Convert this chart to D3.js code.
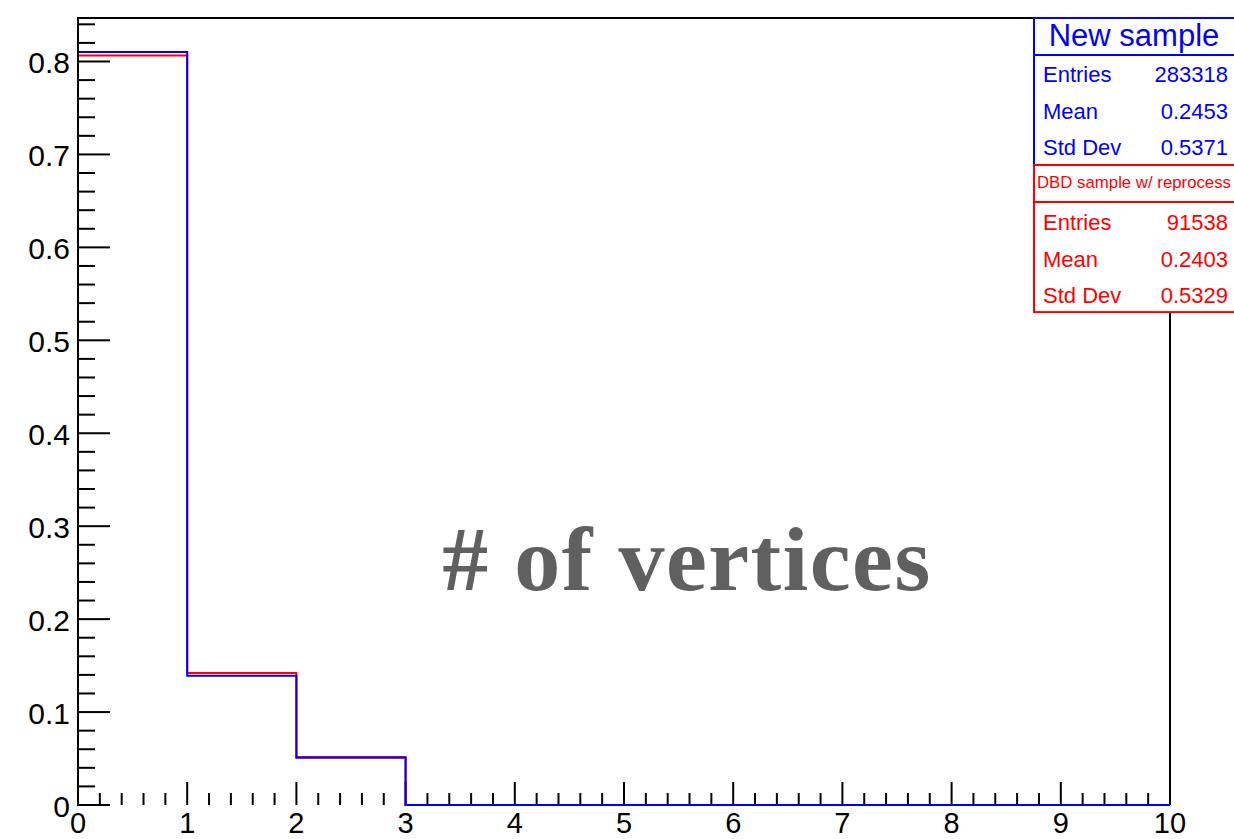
<!DOCTYPE html>
<html>
<head>
<meta charset="utf-8">
<script src="https://cdn.jsdelivr.net/npm/d3@7/dist/d3.min.js"></script>
<style>
  html, body { margin: 0; padding: 0; background: #fff; }
  svg { display: block; }
</style>
</head>
<body>
<svg id="chart" width="1234" height="839"></svg>
<script>
// Histogram bin edges (number of vertices) and normalised contents
const binEdges = [0, 1, 2, 3, 4, 5, 6, 7, 8, 9, 10];
const newSample = [0.8102, 0.1390, 0.0508, 0, 0, 0, 0, 0, 0, 0];
const dbdSample = [0.8064, 0.1419, 0.0517, 0, 0, 0, 0, 0, 0, 0];

const xTicks = [0, 1, 2, 3, 4, 5, 6, 7, 8, 9, 10];
const yTicks = [0, 0.1, 0.2, 0.3, 0.4, 0.5, 0.6, 0.7, 0.8];

const newStats = [["Entries", "283318"], ["Mean", "0.2453"], ["Std Dev", "0.5371"]];
const dbdStats = [["Entries", "91538"], ["Mean", "0.2403"], ["Std Dev", "0.5329"]];

const svg = d3.select("#chart");
const padL = 78, padR = 1170, padT = 18, padB = 805;

const x = d3.scaleLinear().domain([0, 10]).range([padL, padR]);
const y = d3.scaleLinear().domain([0, 0.8468]).range([padB, padT]);

const sans = "'Liberation Sans', Arial, Helvetica, sans-serif";

// y axis: major ticks every 0.1 and minor ticks every 0.02, drawn inward
const yMinor = d3.range(0, 0.8468, 0.02).filter(v => Math.abs(v * 10 - Math.round(v * 10)) > 1e-6);
svg.append("g").selectAll("line").data(yMinor).join("line")
  .attr("x1", padL).attr("x2", padL + 17)
  .attr("y1", d => y(d)).attr("y2", d => y(d))
  .attr("stroke", "#000").attr("stroke-width", 2);
svg.append("g").selectAll("line").data(yTicks).join("line")
  .attr("x1", padL).attr("x2", padL + 32)
  .attr("y1", d => y(d)).attr("y2", d => y(d))
  .attr("stroke", "#000").attr("stroke-width", 2);
svg.append("g").selectAll("text").data(yTicks).join("text")
  .attr("x", padL - 8)
  .attr("y", d => y(d) + 12)
  .attr("text-anchor", "end")
  .attr("font-family", sans).attr("font-size", 30)
  .text(d => d === 0 ? "0" : d3.format(".1f")(d));

// x axis: major ticks at integers and minor ticks every 0.2
const xMinor = d3.range(0, 10, 0.2).filter(v => Math.abs(v - Math.round(v)) > 1e-6);
svg.append("g").selectAll("line").data(xMinor).join("line")
  .attr("x1", d => x(d)).attr("x2", d => x(d))
  .attr("y1", padB).attr("y2", padB - 12)
  .attr("stroke", "#000").attr("stroke-width", 2);
svg.append("g").selectAll("line").data(xTicks).join("line")
  .attr("x1", d => x(d)).attr("x2", d => x(d))
  .attr("y1", padB).attr("y2", padB - 23)
  .attr("stroke", "#000").attr("stroke-width", 2);
svg.append("g").selectAll("text").data(xTicks).join("text")
  .attr("x", d => x(d))
  .attr("y", 833)
  .attr("text-anchor", "middle")
  .attr("font-family", sans).attr("font-size", 29)
  .text(d => d);

// frame: top and right edges
svg.append("path")
  .attr("d", d3.line()([[padL, padT], [padR, padT], [padR, padB]]))
  .attr("fill", "none").attr("stroke", "#000").attr("stroke-width", 2);

// step outlines of the histograms
function stepPath(vals) {
  const pts = [];
  vals.forEach((v, i) => {
    pts.push([x(binEdges[i]), y(v)]);
    pts.push([x(binEdges[i + 1]), y(v)]);
  });
  return d3.line()(pts);
}
svg.append("path").attr("d", stepPath(dbdSample))
  .attr("fill", "none").attr("stroke", "#ff0000").attr("stroke-width", 2);
svg.append("path").attr("d", stepPath(newSample))
  .attr("fill", "none").attr("stroke", "#0000ff").attr("stroke-width", 2);

// left axis line over the histogram edge
svg.append("line")
  .attr("x1", padL).attr("x2", padL).attr("y1", padT - 1).attr("y2", padB + 1)
  .attr("stroke", "#000").attr("stroke-width", 2);

// annotation in the middle of the pad
svg.append("text")
  .attr("x", 687).attr("y", 590)
  .attr("text-anchor", "middle")
  .attr("font-family", "'Liberation Serif', 'Times New Roman', serif")
  .attr("font-weight", "bold")
  .attr("font-size", 92)
  .attr("letter-spacing", 1.5)
  .attr("fill", "#606060")
  .text("# of vertices");

// statistics boxes
function statBox(g, x0, y0, titleH, rowH, title, titleSize, titleBase, rowBase, rows, color) {
  const w = 210;
  const h = titleH + rowH * rows.length;
  g.append("rect").attr("x", x0).attr("y", y0).attr("width", w).attr("height", h)
    .attr("fill", "#fff").attr("stroke", color).attr("stroke-width", 2);
  g.append("line").attr("x1", x0).attr("x2", x0 + w)
    .attr("y1", y0 + titleH).attr("y2", y0 + titleH)
    .attr("stroke", color).attr("stroke-width", 2);
  g.append("text").attr("x", 1134).attr("y", titleBase)
    .attr("text-anchor", "middle").attr("font-family", sans)
    .attr("font-size", titleSize).attr("fill", color).text(title);
  rows.forEach((r, i) => {
    const by = rowBase + rowH * i;
    g.append("text").attr("x", x0 + 9).attr("y", by)
      .attr("font-family", sans).attr("font-size", 22).attr("fill", color).text(r[0]);
    g.append("text").attr("x", 1228).attr("y", by).attr("text-anchor", "end")
      .attr("font-family", sans).attr("font-size", 22).attr("fill", color).text(r[1]);
  });
}
const boxes = svg.append("g");
statBox(boxes, 1034, 18, 37, 36.7, "New sample", 31, 46, 82, newStats, "#0000ff");
statBox(boxes, 1034, 165, 37, 36.7, "DBD sample w/ reprocess", 16.8, 188, 230, dbdStats, "#ff0000");
</script>
</body>
</html>
